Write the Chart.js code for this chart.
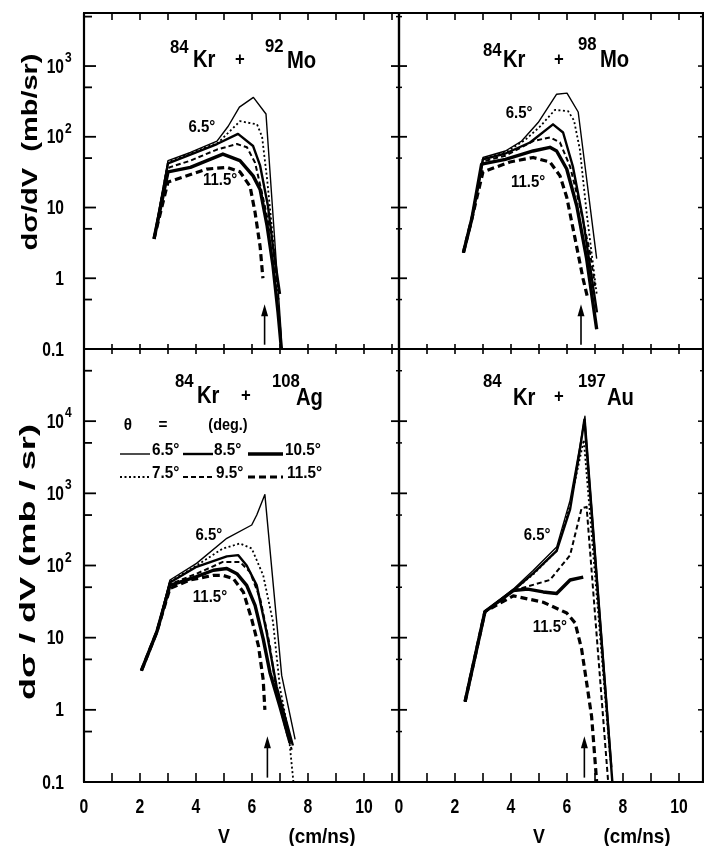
<!DOCTYPE html>
<html><head><meta charset="utf-8">
<script src="https://cdn.jsdelivr.net/npm/chart.js@4.4.1/dist/chart.umd.min.js"></script>
<style>
html,body{margin:0;padding:0;background:#fff;overflow:hidden;}
#wrap{position:relative;width:704px;height:846px;background:#fff;}
#wrap canvas{position:absolute;left:0;top:0;}
</style></head><body>
<div id="wrap">
<canvas id="c1" width="704" height="846"></canvas>
<canvas id="c2" width="704" height="846"></canvas>
<canvas id="c3" width="704" height="846"></canvas>
<canvas id="c4" width="704" height="846"></canvas>
</div>
<script>
// ---------- categories / tick labels ----------
const ANGLES = ['6.5°','7.5°','8.5°','9.5°','10.5°','11.5°'];
const X_TICK_LABELS = [0,2,4,6,8,10];
const Y_TICKS_TOP = [0.1,1,10,100,1000];
const Y_TICKS_BOTTOM = [0.1,1,10,100,1000,10000];

// ---------- 84Kr + 92Mo ----------
const MO92_65_V=[2.5,3.0,3.8,4.75,5.15,5.55,6.05,6.5,7.05];
const MO92_65_Y=[3.6,46,60,87,141,262,360,210,0.15];
const MO92_75_V=[2.5,3.0,4.0,4.8,5.57,6.18,6.36,6.54,6.75,6.95];
const MO92_75_Y=[3.6,44,63,83,166,150,100,25,3.6,0.5];
const MO92_85_V=[2.5,3.0,3.8,4.75,5.5,6.04,6.29,6.57,6.75,7.0];
const MO92_85_Y=[3.6,42,56,79,110,74,39,10.5,2.8,0.6];
const MO92_95_V=[2.5,3.05,3.8,4.75,5.46,5.82,6.11,6.39,6.71,6.93];
const MO92_95_Y=[3.6,37,46,66,79,71,43,14,3.6,0.75];
const MO92_105_V=[2.5,3.0,3.8,4.96,5.57,6.04,6.29,6.54,6.75,6.93,7.05];
const MO92_105_Y=[3.6,32,37,57,46,28,18,5.5,1.5,0.33,0.1];
const MO92_115_V=[2.5,3.0,3.54,4.39,5.11,5.57,5.93,6.11,6.29,6.39];
const MO92_115_Y=[3.6,23,27,35,37,32,20,8.5,2.8,1.0];

// ---------- 84Kr + 98Mo ----------
const MO98_65_V=[2.3,2.6,3.0,3.8,4.38,4.97,5.63,6.0,6.4,7.06];
const MO98_65_Y=[2.3,6.9,51,63,87,159,400,414,224,1.9];
const MO98_75_V=[2.3,2.6,3.0,3.8,4.5,5.04,5.57,6.04,6.25,6.46,6.7,7.06];
const MO98_75_Y=[2.3,6.9,50,60,90,140,240,230,170,66,8.5,0.6];
const MO98_85_V=[2.3,2.6,3.0,3.8,4.68,5.5,5.86,6.21,6.57,7.07];
const MO98_85_Y=[2.3,6.9,48,58,83,150,115,38,6.9,0.33];
const MO98_95_V=[2.3,2.6,3.0,3.8,4.79,5.39,5.75,6.11,6.46,6.82,7.0];
const MO98_95_Y=[2.3,6.9,45,54,87,98,83,38,10.5,2.3,0.78];
const MO98_105_V=[2.3,2.6,2.95,3.8,4.79,5.39,5.63,5.99,6.35,6.7,7.06];
const MO98_105_Y=[2.3,6.9,41,48,63,71,63,35,10.5,1.9,0.19];
const MO98_115_V=[2.3,2.6,3.0,3.96,4.79,5.39,5.75,5.99,6.29,6.57,6.75];
const MO98_115_Y=[2.3,6.9,32,44,51,44,28,14,3.6,1.0,0.5];

// ---------- 84Kr + 108Ag ----------
const AG108_65_V=[2.05,2.6,3.07,4.02,5.1,5.99,6.17,6.46,7.06,7.54];
const AG108_65_Y=[3.5,12,63,107,238,364,500,960,3.0,0.39];
const AG108_75_V=[2.05,2.6,3.07,4.02,4.96,5.57,5.99,6.4,6.75,7.0,7.3,7.48];
const AG108_75_Y=[3.5,12,60,100,172,202,172,73,16.6,2.0,0.5,0.1];
const AG108_85_V=[2.05,2.6,3.07,4.02,5.1,5.51,5.81,6.17,6.52,6.88,7.24,7.46];
const AG108_85_Y=[3.5,12,58,96,134,139,100,53,12,2.1,0.66,0.32];
const AG108_95_V=[2.05,2.6,3.07,4.02,4.96,5.57,5.93,6.29,6.64,6.88,7.24,7.42];
const AG108_95_Y=[3.5,12,55,77,112,112,81,35,7.7,1.7,0.48,0.28];
const AG108_105_V=[2.05,2.6,3.07,4.02,4.62,5.1,5.46,5.81,6.11,6.4,6.64,7.0,7.36];
const AG108_105_Y=[3.5,12,53,70,86,91,77,53,28,9.6,3.3,1.1,0.35];
const AG108_115_V=[2.05,2.6,3.07,3.79,4.62,4.96,5.33,5.69,5.99,6.23,6.4,6.46];
const AG108_115_Y=[3.5,12,48,63,73,73,66,43,18,7.7,2.6,1.0];

// ---------- 84Kr + 197Au ----------
const AU197_65_V=[2.36,3.07,4.08,4.79,5.63,6.11,6.46,6.64,7.6];
const AU197_65_Y=[1.3,23,47,85,180,800,4500,11700,0.16];
const AU197_75_V=[2.36,3.07,4.08,4.79,5.63,6.11,6.6,7.55];
const AU197_75_Y=[1.3,23,45,75,160,700,5500,0.2];
const AU197_85_V=[2.36,3.07,4.08,4.79,5.63,6.11,6.46,6.62,7.62];
const AU197_85_Y=[1.3,23,45,78,160,600,4000,10500,0.1];
const AU197_95_V=[2.36,3.07,4.08,4.5,5.39,6.11,6.52,6.7,7.47];
const AU197_95_Y=[1.3,23,45,50,63,139,620,650,0.1];
const AU197_105_V=[2.36,3.07,4.08,4.6,5.15,5.63,6.11,6.58];
const AU197_105_Y=[1.3,23,45,47,43,41,63,69];
const AU197_115_V=[2.36,3.07,4.08,5.15,5.99,6.29,6.52,6.7,6.88,7.06];
const AU197_115_Y=[1.3,23,38,31,22,16,7,2.4,0.8,0.1];

// ---------- styles ----------
const STYLE = [
  {w:1.4, dash:[]},
  {w:1.8, dash:[2,2.5]},
  {w:2.4, dash:[]},
  {w:2.0, dash:[5,3]},
  {w:3.4, dash:[]},
  {w:3.2, dash:[7,4]}
];
const FONT = '"Liberation Sans", "DejaVu Sans", Arial, sans-serif';

const PANELS = [
  { canvas:'c1', row:0, col:0, xmax:11.25, ymax:5623,
    pad:{left:84,top:13,right:305,bottom:497}, yTicks:Y_TICKS_TOP,
    data:[[MO92_65_V,MO92_65_Y],[MO92_75_V,MO92_75_Y],[MO92_85_V,MO92_85_Y],[MO92_95_V,MO92_95_Y],[MO92_105_V,MO92_105_Y],[MO92_115_V,MO92_115_Y]],
    title:[{s:'84',dx:86,dy:40,size:19},{s:'Kr',dx:109,dy:54,size:23},{s:'+',dx:151,dy:52,size:19},{s:'92',dx:181,dy:39,size:19},{s:'Mo',dx:203,dy:55,size:23}],
    notes:[{s:'6.5°',v:4.21,y:134},{s:'11.5°',v:4.86,y:24.6}], arrow:6.45,
    ytitle:{s:'dσ/dV  (mb/sr)', cx:31, cy:152, w:197} },
  { canvas:'c2', row:0, col:1, xmax:10.857, ymax:5623,
    pad:{left:399,top:13,right:1,bottom:497}, yTicks:Y_TICKS_TOP,
    data:[[MO98_65_V,MO98_65_Y],[MO98_75_V,MO98_75_Y],[MO98_85_V,MO98_85_Y],[MO98_95_V,MO98_95_Y],[MO98_105_V,MO98_105_Y],[MO98_115_V,MO98_115_Y]],
    title:[{s:'84',dx:84,dy:43,size:19},{s:'Kr',dx:104,dy:54,size:23},{s:'+',dx:155,dy:52,size:19},{s:'98',dx:179,dy:37,size:19},{s:'Mo',dx:201,dy:54,size:23}],
    notes:[{s:'6.5°',v:4.29,y:217},{s:'11.5°',v:4.61,y:23}], arrow:6.5 },
  { canvas:'c3', row:1, col:0, xmax:11.25, ymax:100000,
    pad:{left:84,top:349,right:305,bottom:64}, yTicks:Y_TICKS_BOTTOM,
    data:[[AG108_65_V,AG108_65_Y],[AG108_75_V,AG108_75_Y],[AG108_85_V,AG108_85_Y],[AG108_95_V,AG108_95_Y],[AG108_105_V,AG108_105_Y],[AG108_115_V,AG108_115_Y]],
    title:[{s:'84',dx:91,dy:38,size:19},{s:'Kr',dx:113,dy:54,size:23},{s:'+',dx:157,dy:52,size:19},{s:'108',dx:188,dy:38,size:19},{s:'Ag',dx:212,dy:56,size:23}],
    notes:[{s:'6.5°',v:4.46,y:263},{s:'11.5°',v:4.5,y:36}], arrow:6.55,
    ytitle:{s:'dσ / dV (mb / sr)', cx:29, cy:562, w:276}, legend:true },
  { canvas:'c4', row:1, col:1, xmax:10.857, ymax:100000,
    pad:{left:399,top:349,right:1,bottom:64}, yTicks:Y_TICKS_BOTTOM,
    data:[[AU197_65_V,AU197_65_Y],[AU197_75_V,AU197_75_Y],[AU197_85_V,AU197_85_Y],[AU197_95_V,AU197_95_Y],[AU197_105_V,AU197_105_Y],[AU197_115_V,AU197_115_Y]],
    title:[{s:'84',dx:84,dy:38,size:19},{s:'Kr',dx:114,dy:56,size:23},{s:'+',dx:155,dy:53,size:19},{s:'197',dx:179,dy:38,size:19},{s:'Au',dx:208,dy:56,size:23}],
    notes:[{s:'6.5°',v:4.93,y:263},{s:'11.5°',v:5.39,y:14}], arrow:6.62 }
];

function series(V, Y){ return V.map((v,i)=>({x:v, y:Y[i]})); }

function txt(ctx, s, x, y, size, opt){
  opt = opt || {};
  const align = opt.align || 'center', base = opt.base || 'middle', sx = opt.sx || 0.8;
  ctx.save();
  ctx.font = 'bold ' + size + 'px ' + FONT;
  ctx.translate(x, y); ctx.scale(sx, 1);
  ctx.textAlign = align; ctx.textBaseline = base; ctx.fillStyle = '#000';
  ctx.fillText(s, 0, 0);
  const w = ctx.measureText(s).width * sx;
  ctx.restore();
  return w;
}
function line(ctx, x1, y1, x2, y2, w, dash){
  ctx.save(); ctx.lineWidth = w; ctx.strokeStyle = '#000'; ctx.setLineDash(dash || []);
  ctx.beginPath(); ctx.moveTo(x1, y1); ctx.lineTo(x2, y2); ctx.stroke(); ctx.restore();
}

function drawDecor(chart, P){
  const ctx = chart.ctx, a = chart.chartArea, xs = chart.scales.x, ys = chart.scales.y;
  const L = a.left, R = a.right, T = a.top, B = a.bottom;
  // frame
  line(ctx, L-1, T, R+1, T, 2.2); line(ctx, L-1, B, R+1, B, 2.2);
  line(ctx, L, T, L, B, 2.2); line(ctx, R, T, R, B, 2.2);
  // x ticks
  for (let v = 1; v <= Math.floor(P.xmax); v++){
    const x = xs.getPixelForValue(v);
    if (P.row === 0){ line(ctx, x, T, x, T+7, 1.6); line(ctx, x, B-5, x, B+5, 1.6); }
    else line(ctx, x, B, x, B-9, 1.6);
  }
  // y ticks
  for (let e = -1; e <= 5; e++){
    const maj = Math.pow(10, e), mn = 5*Math.pow(10, e);
    [[maj, true],[mn, false]].forEach(([t, isMaj]) => {
      if (t <= 0.1 || t >= P.ymax) return;
      const y = ys.getPixelForValue(t);
      if (P.col === 0) line(ctx, L, y, L + (isMaj ? 12 : 8), y, 1.8);
      else {
        line(ctx, L - (isMaj ? 8 : 3), y, L + (isMaj ? 8 : 3), y, isMaj ? 1.8 : 1.5);
        line(ctx, R, y, R - (isMaj ? 5 : 3), y, 1.5);
      }
    });
  }
  // y tick labels
  if (P.col === 0){
    P.yTicks.forEach(t => {
      const y = ys.getPixelForValue(t);
      if (t >= 100){
        txt(ctx, '10', 64, y+1, 20, {align:'right', sx:0.78});
        txt(ctx, String(Math.round(Math.log10(t))), 65, y-8, 15, {align:'left', sx:0.8});
      } else {
        txt(ctx, t === 10 ? '10' : (t === 1 ? '1' : '0.1'), 64, y+1, 20, {align:'right', sx:0.78});
      }
    });
    // y title
    const yt = P.ytitle;
    ctx.save();
    ctx.translate(yt.cx, yt.cy); ctx.rotate(-Math.PI/2);
    ctx.font = 'bold 22px ' + FONT;
    const w0 = ctx.measureText(yt.s).width;
    ctx.scale(yt.w / w0, 1);
    ctx.textAlign = 'center'; ctx.textBaseline = 'middle'; ctx.fillStyle = '#000';
    ctx.fillText(yt.s, 0, 0);
    ctx.restore();
  }
  // x tick labels + title
  if (P.row === 1){
    X_TICK_LABELS.forEach(v => {
      txt(ctx, String(v), xs.getPixelForValue(v), B + 25, 21, {sx:0.75});
    });
    txt(ctx, 'V', L + 140, B + 55, 21, {sx:0.85});
    txt(ctx, '(cm/ns)', L + 238, B + 55, 21, {sx:0.9});
  }
  // title
  P.title.forEach(p => txt(ctx, p.s, L + p.dx, T + p.dy, p.size, {align:'left', base:'alphabetic', sx:0.88}));
  // curve labels
  P.notes.forEach(n => txt(ctx, n.s, xs.getPixelForValue(n.v), ys.getPixelForValue(n.y), 17, {sx:0.88}));
  // arrow
  const ax = xs.getPixelForValue(P.arrow), ay1 = ys.getPixelForValue(0.115), ay2 = ys.getPixelForValue(0.43);
  line(ctx, ax, ay1, ax, ay2 + 8, 1.6);
  ctx.save(); ctx.fillStyle = '#000'; ctx.beginPath();
  ctx.moveTo(ax, ay2); ctx.lineTo(ax - 3.5, ay2 + 12); ctx.lineTo(ax + 3.5, ay2 + 12); ctx.closePath(); ctx.fill(); ctx.restore();
  // legend
  if (P.legend){
    txt(ctx, 'θ', L + 44, T + 76, 17, {sx:0.9});
    txt(ctx, '=', L + 79, T + 76, 17, {sx:0.9});
    txt(ctx, '(deg.)', L + 144, T + 76, 17, {sx:0.85});
    const rows = [[0,2,4],[1,3,5]];
    const lx = [[36,66,68],[99,129,130],[164,199,201]];
    rows.forEach((r, ri) => {
      const y = T + 106 + ri * 23;
      r.forEach((si, k) => {
        const st = STYLE[si];
        line(ctx, L + lx[k][0], y - 1, L + lx[k][1], y - 1, st.w, st.dash);
        txt(ctx, ANGLES[si], L + lx[k][2] + (ri === 1 && k > 0 ? 2 : 0), y, 17, {align:'left', base:'alphabetic', sx:0.9});
      });
    });
  }
}

PANELS.forEach(P => {
  new Chart(document.getElementById(P.canvas), {
    type: 'line',
    data: { datasets: P.data.map((d, i) => ({
      label: ANGLES[i], data: series(d[0], d[1]),
      borderColor: '#000', backgroundColor: '#000',
      borderWidth: STYLE[i].w, borderDash: STYLE[i].dash,
      borderJoinStyle: 'round', pointRadius: 0, fill: false, tension: 0
    })) },
    options: {
      responsive: false, animation: false, events: [],
      layout: { padding: P.pad },
      scales: {
        x: { type: 'linear', min: 0, max: P.xmax, display: false },
        y: { type: 'logarithmic', min: 0.1, max: P.ymax, display: false }
      },
      plugins: { legend: { display: false }, tooltip: { enabled: false } }
    },
    plugins: [{ id: 'decor_' + P.canvas, afterDatasetsDraw(chart){ drawDecor(chart, P); } }]
  });
});
</script>
</body></html>
